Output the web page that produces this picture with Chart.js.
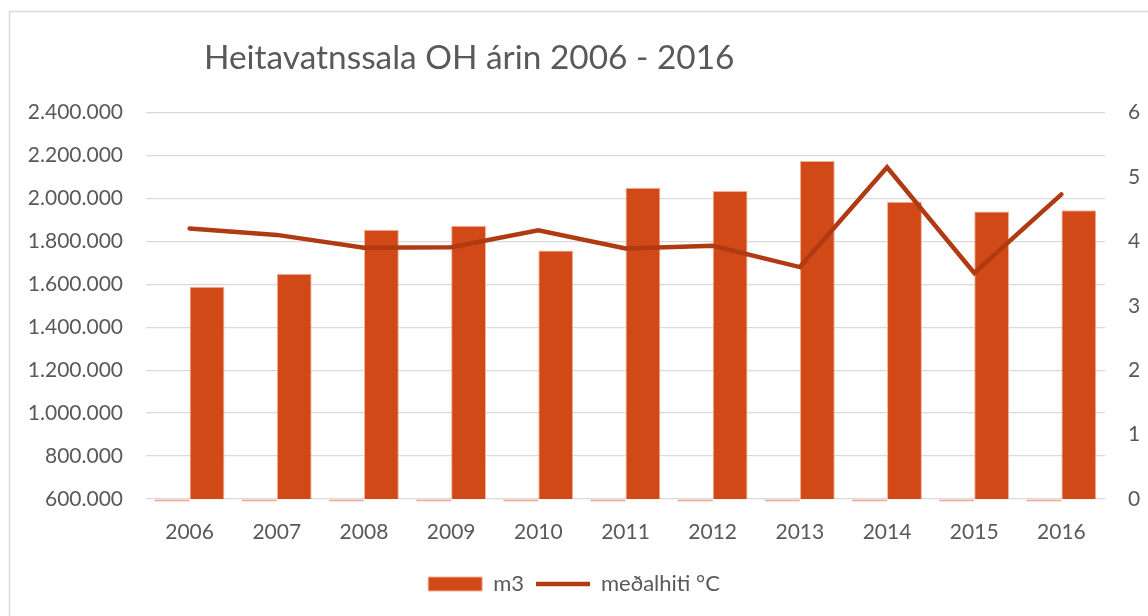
<!DOCTYPE html>
<html><head><meta charset="utf-8">
<script src="https://cdn.jsdelivr.net/npm/chart.js@4"></script>
<style>html,body{margin:0;padding:0;background:#fff}#wrap{position:relative;width:1148px;height:616px}</style>
</head><body><div id="wrap"><canvas id="c" width="1148" height="616"></canvas></div>
<script>
const years = ['2006','2007','2008','2009','2010','2011','2012','2013','2014','2015','2016'];
const arValues = [0,0,0,0,0,0,0,0,0,0,0];
const m3Values = [1589000,1649500,1854000,1872700,1757000,2049500,2034000,2173600,1984700,1938400,1944400];
const tempValues = [4.20,4.10,3.90,3.91,4.17,3.89,3.93,3.60,5.15,3.51,4.73];
const leftMin = 600000, leftMax = 2400000, leftStep = 200000;
const rightMin = 0, rightMax = 6, rightStep = 1;
const titleText = 'Heitavatnssala OH árin 2006 - 2016';
const m3Label = 'm3';
const tempLabel = 'meðalhiti °C';

const FONT = 'Lato';
const TXT = '#595959';
const BAR = '#D24918';
const LINE = '#B03A12';

function fmt(v){ return String(v).replace(/\B(?=(\d{3})+(?!\d))/g, '.'); }

const decor = {
  id: 'decor',
  beforeDraw(chart){
    const ctx = chart.ctx;
    ctx.save();
    ctx.strokeStyle = '#d9d9d9';
    ctx.lineWidth = 1.5;
    ctx.strokeRect(9.5, 11.5, 1400, 1000);
    ctx.restore();
  },
  afterDatasetsDraw(chart){
    const ctx = chart.ctx;
    const meta = chart.getDatasetMeta(0);
    const area = chart.chartArea;
    ctx.save();
    ctx.strokeStyle = '#F2A58A';
    ctx.lineWidth = 1.5;
    meta.data.forEach(el => {
      const w = el.width;
      ctx.beginPath();
      ctx.moveTo(el.x - w/2, area.bottom + 1.5);
      ctx.lineTo(el.x + w/2, area.bottom + 1.5);
      ctx.stroke();
    });
    ctx.fillStyle = TXT;
    ctx.font = '33.4px ' + FONT;
    ctx.textBaseline = 'middle';
    ctx.textAlign = 'left';
    ctx.fillText(titleText, 204, 58);
    ctx.restore();
  }
};

new Chart(document.getElementById('c'), {
  data: {
    labels: years,
    datasets: [
      { type:'bar', label:'Ár', data: arValues, backgroundColor:'#F2A58A', borderWidth:0, yAxisID:'y', order:2 },
      { type:'bar', label:m3Label, data: m3Values, backgroundColor:BAR, borderColor:'#F4B29A', borderWidth:1, yAxisID:'y', order:2, pointStyle:'rect' },
      { type:'line', label:tempLabel, data: tempValues, borderColor:LINE, backgroundColor:LINE, borderWidth:4.5, pointRadius:0, tension:0, borderCapStyle:'round', borderJoinStyle:'miter', yAxisID:'y2', order:1, pointStyle:'line' }
    ]
  },
  options: {
    responsive:false, animation:false,
    layout:{ padding:{ top:112.5, bottom:11, left:0, right:0 } },
    datasets:{ bar:{ categoryPercentage:0.8, barPercentage:1.0 } },
    plugins:{
      tooltip:{enabled:false},
      title:{display:false},
      legend:{
        position:'bottom',
        labels:{
          filter: it => it.datasetIndex !== 0,
          sort: (a,b) => a.datasetIndex - b.datasetIndex,
          usePointStyle:true, pointStyleWidth:54, boxHeight:14,
          color:TXT, font:{family:FONT, size:22}, padding:12
        }
      }
    },
    scales:{
      x:{
        grid:{display:false, drawTicks:false},
        border:{display:false},
        ticks:{color:TXT, font:{family:FONT, size:21}, padding:21, maxRotation:0},
        afterFit(s){ s.height = 62; }
      },
      y:{
        position:'left', min:leftMin, max:leftMax,
        grid:{color:'#d9d9d9', lineWidth:1.3, drawTicks:false},
        border:{display:false},
        ticks:{stepSize:leftStep, color:TXT, font:{family:FONT, size:21}, padding:23, callback:v=>fmt(v)},
        afterFit(s){ s.width = 146; }
      },
      y2:{
        position:'right', min:rightMin, max:rightMax,
        grid:{display:false, drawTicks:false},
        border:{display:false},
        ticks:{stepSize:rightStep, color:TXT, font:{family:FONT, size:21}, padding:23},
        afterFit(s){ s.width = 43; }
      }
    }
  },
  plugins:[decor]
});
</script></body></html>
